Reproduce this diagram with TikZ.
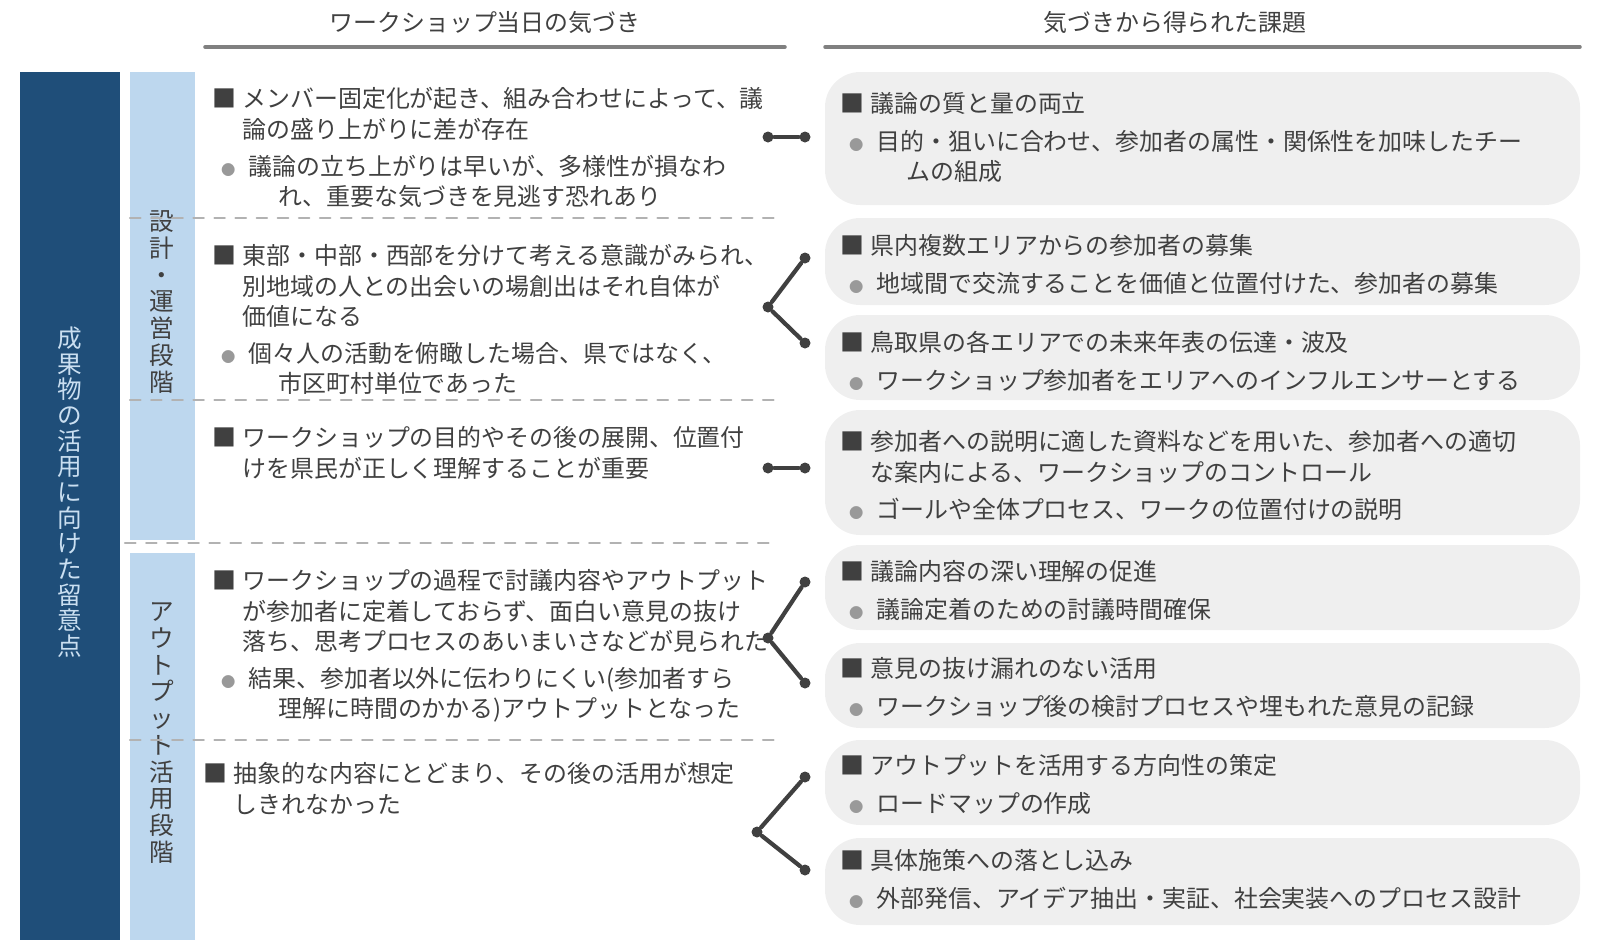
\documentclass[tikz,border=0pt]{standalone}
\usepackage{fontspec}
\newfontfamily\jp{Noto Sans CJK JP}
\definecolor{navy}{HTML}{1F4E79}
\definecolor{paleblue}{HTML}{BDD7EE}
\definecolor{boxgray}{HTML}{EFEFEF}
\definecolor{textgray}{HTML}{404040}
\newcommand{\sqm}{\makebox[1.25em][l]{■}}
\newcommand{\ind}{\hspace*{1.25em}}
\newcommand{\bul}{\hspace*{0.35em}\makebox[1.15em][l]{\color{gray!80}\scalebox{0.6}{●}}}
\newcommand{\bind}{\hspace*{1.5em}}
\begin{document}
\begin{tikzpicture}[x=0.01cm, y=-0.01cm, line cap=round,
  txt/.style={anchor=north west, align=left, inner sep=0, font=\jp\fontsize{6.8}{8.6}\selectfont, text=textgray},
  head/.style={font=\jp\fontsize{6.8}{8.6}\selectfont, text=textgray},
  card/.style={fill=boxgray, rounded corners=10pt},
  sep/.style={dashed, gray!60, line width=0.6pt},
  dot/.style={circle, fill=textgray, inner sep=0, minimum size=0.11cm},
  link/.style={textgray, line width=1.2pt}]
\useasboundingbox (0,0) rectangle (1600,948);
% headers
\node[head] (hl) at (485,22) {ワークショップ当日の気づき};
\node[head] (hr) at (1175,22) {気づきから得られた課題};
\draw[gray, line width=1pt] (205,47) -- (785,47);
\draw[gray, line width=1pt] (825,47) -- (1580,47);
% side bars
\fill[navy] (20,72) rectangle (120,940);
\fill[paleblue] (130,72) rectangle (195,540);
\fill[paleblue] (130,553) rectangle (195,940);
\node[font=\jp\fontsize{7}{7.3}\selectfont, text=paleblue!80!white, align=center] (main) at (70,492) {成\\果\\物\\の\\活\\用\\に\\向\\け\\た\\留\\意\\点};
\node[font=\jp\fontsize{7}{7.6}\selectfont, text=textgray, align=center] (ph1) at (162,302) {設\\計\\・\\運\\営\\段\\階};
\node[font=\jp\fontsize{7}{7.6}\selectfont, text=textgray, align=center] (ph2) at (162,733) {ア\\ウ\\ト\\プ\\ッ\\ト\\活\\用\\段\\階};
% separators
\draw[sep] (130,218) -- (775,218);
\draw[sep] (130,400) -- (775,400);
\draw[sep] (125,543) -- (775,543);
\draw[sep] (130,740) -- (775,740);
% left findings
\node[txt] (f1) at (212,87) {\sqm メンバー固定化が起き、組み合わせによって、議\\ \ind 論の盛り上がりに差が存在\\[2pt] \bul 議論の立ち上がりは早いが、多様性が損なわ\\ \ind\bind れ、重要な気づきを見逃す恐れあり};
\node[txt] (f2) at (212,244) {\sqm 東部・中部・西部を分けて考える意識がみられ、\\ \ind 別地域の人との出会いの場創出はそれ自体が\\ \ind 価値になる\\[2pt] \bul 個々人の活動を俯瞰した場合、県ではなく、\\ \ind\bind 市区町村単位であった};
\node[txt] (f3) at (212,426) {\sqm ワークショップの目的やその後の展開、位置付\\ \ind けを県民が正しく理解することが重要};
\node[txt] (f4) at (212,569) {\sqm ワークショップの過程で討議内容やアウトプット\\ \ind が参加者に定着しておらず、面白い意見の抜け\\ \ind 落ち、思考プロセスのあいまいさなどが見られた\\[2pt] \bul 結果、参加者以外に伝わりにくい(参加者すら\\ \ind\bind 理解に時間のかかる)アウトプットとなった};
\node[txt] (f5) at (203,762) {\sqm 抽象的な内容にとどまり、その後の活用が想定\\ \ind しきれなかった};
% right cards
\fill[card] (825,72) rectangle (1580,205);
\fill[card] (825,218) rectangle (1580,305);
\fill[card] (825,315) rectangle (1580,400);
\fill[card] (825,410) rectangle (1580,535);
\fill[card] (825,545) rectangle (1580,630);
\fill[card] (825,643) rectangle (1580,728);
\fill[card] (825,740) rectangle (1580,825);
\fill[card] (825,838) rectangle (1580,925);
\node[txt] (c1) at (840,92) {\sqm 議論の質と量の両立\\[2pt] \bul 目的・狙いに合わせ、参加者の属性・関係性を加味したチー\\ \ind\bind ムの組成};
\node[txt] (c2) at (840,234) {\sqm 県内複数エリアからの参加者の募集\\[2pt] \bul 地域間で交流することを価値と位置付けた、参加者の募集};
\node[txt] (c3) at (840,331) {\sqm 鳥取県の各エリアでの未来年表の伝達・波及\\[2pt] \bul ワークショップ参加者をエリアへのインフルエンサーとする};
\node[txt] (c4) at (840,430) {\sqm 参加者への説明に適した資料などを用いた、参加者への適切\\ \ind な案内による、ワークショップのコントロール\\[2pt] \bul ゴールや全体プロセス、ワークの位置付けの説明};
\node[txt] (c5) at (840,560) {\sqm 議論内容の深い理解の促進\\[2pt] \bul 議論定着のための討議時間確保};
\node[txt] (c6) at (840,657) {\sqm 意見の抜け漏れのない活用\\[2pt] \bul ワークショップ後の検討プロセスや埋もれた意見の記録};
\node[txt] (c7) at (840,754) {\sqm アウトプットを活用する方向性の策定\\[2pt] \bul ロードマップの作成};
\node[txt] (c8) at (840,849) {\sqm 具体施策への落とし込み\\[2pt] \bul 外部発信、アイデア抽出・実証、社会実装へのプロセス設計};
% connectors
\node[dot] (s1) at (768,137) {}; \node[dot] (t1) at (805,137) {};
\node[dot] (s2) at (768,307) {}; \node[dot] (t2a) at (805,258) {}; \node[dot] (t2b) at (805,343) {};
\node[dot] (s3) at (768,468) {}; \node[dot] (t3) at (805,468) {};
\node[dot] (s4) at (768,638) {}; \node[dot] (t4a) at (805,582) {}; \node[dot] (t4b) at (805,683) {};
\node[dot] (s5) at (757,832) {}; \node[dot] (t5a) at (805,777) {}; \node[dot] (t5b) at (805,870) {};
\draw[link] (s1) -- (t1);
\draw[link] (t2a) -- (s2) -- (t2b);
\draw[link] (s3) -- (t3);
\draw[link] (t4a) -- (s4) -- (t4b);
\draw[link] (t5a) -- (s5) -- (t5b);
\end{tikzpicture}
\end{document}
